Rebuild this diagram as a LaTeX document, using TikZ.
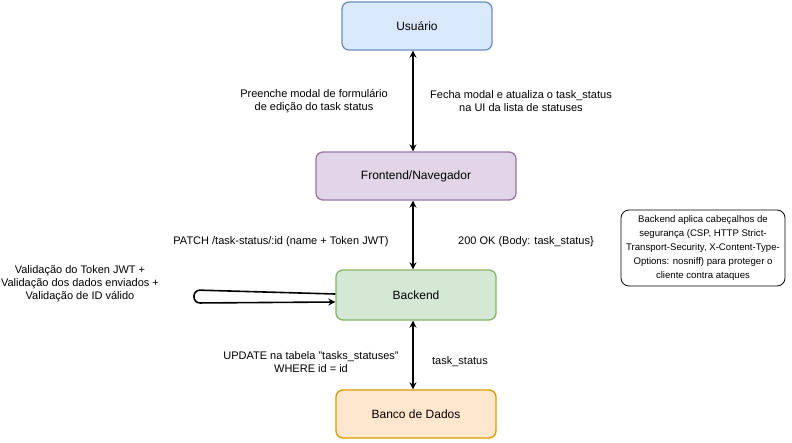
\documentclass[tikz,border=0pt]{standalone}
\usepackage{fontspec}
\setmainfont{Liberation Sans}
\usetikzlibrary{arrows.meta}
\definecolor{bluefill}{HTML}{DAE8FC}\definecolor{bluedraw}{HTML}{6C8EBF}
\definecolor{purplefill}{HTML}{E1D5E7}\definecolor{purpledraw}{HTML}{9673A6}
\definecolor{greenfill}{HTML}{D5E8D4}\definecolor{greendraw}{HTML}{82B366}
\definecolor{orangefill}{HTML}{FFE6CC}\definecolor{orangedraw}{HTML}{D79B00}
\begin{document}
\begin{tikzpicture}[x=1pt,y=-1pt,
  box/.style={draw, rounded corners=7pt, line width=1.3pt, inner sep=0pt, font=\fontsize{12}{14}\selectfont},
  lbl/.style={align=center, inner sep=0pt, font=\fontsize{11}{13}\selectfont},
  conn/.style={line width=1.6pt, {Stealth[length=7pt,width=7pt]}-{Stealth[length=7pt,width=7pt]}},
  loop/.style={line width=1.6pt, -{Stealth[length=7pt,width=7pt]}, rounded corners=6pt}]
\useasboundingbox (0,0) rectangle (792,442);
\node[box, fill=bluefill, draw=bluedraw, minimum width=150pt, minimum height=48pt] (user) at (417,26) {Usuário};
\node[box, fill=purplefill, draw=purpledraw, minimum width=200pt, minimum height=48pt] (front) at (416,176) {Frontend/Navegador};
\node[box, fill=greenfill, draw=greendraw, minimum width=160pt, minimum height=50pt] (back) at (416,295) {Backend};
\node[box, fill=orangefill, draw=orangedraw, minimum width=160pt, minimum height=48pt] (db) at (416,414) {Banco de Dados};
\node[draw, rounded corners=8pt, line width=0.8pt, minimum width=164pt, minimum height=76pt, inner sep=0pt, align=center, font=\fontsize{9.6}{14}\selectfont] (note) at (703,248) {Backend aplica cabeçalhos de\\segurança (CSP, HTTP Strict-\\Transport-Security, X-Content-Type-\\Options: nosniff) para proteger o\\cliente contra ataques};

\draw[conn] (user.south -| 413,0) -- (front.north -| 413,0);
\draw[conn] (front.south -| 413,0) -- (back.north -| 413,0);
\draw[conn] (back.south -| 413,0) -- (db.north -| 413,0);
\coordinate (lA) at (194,290);
\coordinate (lB) at (194,303);
\draw[loop] (back.west |- 0,294) -- (lA) -- (lB) -- (back.west |- 0,302);

\node[lbl] (l1) at (314,101) {Preenche modal de formulário\\de edição do task status};
\node[lbl] (l2) at (521,101) {Fecha modal e atualiza o task\_status\\na UI da lista de statuses};
\node[lbl] (l3) at (281,242) {PATCH /task-status/:id (name + Token JWT)};
\node[lbl] (l4) at (526,242) {200 OK (Body: task\_status\}};
\node[lbl] (l5) at (80,284) {Validação do Token JWT +\\Validação dos dados enviados +\\Validação de ID válido};
\node[lbl] (l6) at (311,362) {UPDATE na tabela "tasks\_statuses"\\WHERE id = id};
\node[lbl] (l7) at (460,362) {task\_status};
\end{tikzpicture}
\end{document}
